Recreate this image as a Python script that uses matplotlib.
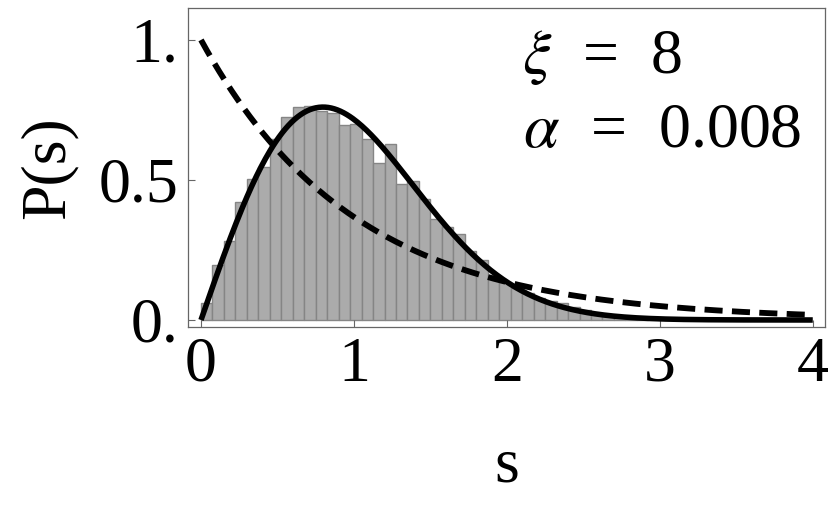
import numpy as np
import matplotlib
matplotlib.use("Agg")
import matplotlib.pyplot as plt

plt.rcParams['font.family'] = ['Liberation Serif', 'DejaVu Serif']
plt.rcParams['mathtext.fontset'] = 'stix'

# histogram of level spacings, bin width 0.075 starting at s = 0
bin_width = 0.075
hist_heights = [0.062, 0.197, 0.282, 0.423, 0.502, 0.548, 0.645, 0.724, 0.761, 0.765,
                0.748, 0.738, 0.696, 0.699, 0.648, 0.562, 0.629, 0.485, 0.498, 0.432,
                0.360, 0.331, 0.307, 0.245, 0.214, 0.160, 0.135, 0.115, 0.095, 0.078,
                0.068, 0.060, 0.048, 0.036, 0.026, 0.018, 0.012, 0.008, 0.005]
bin_left = np.arange(len(hist_heights)) * bin_width

xticks = [0, 1, 2, 3, 4]
yticks = [0, 0.5, 1.0]
yticklabels = ["0.", "0.5", "1."]
xi_label = r"$\xi$  =  8"
alpha_label = r"$\alpha$  =  0.008"

# reference curves: Wigner surmise (solid) and Poisson (dashed)
s = np.linspace(0, 4, 400)
wigner = np.pi / 2 * s * np.exp(-np.pi * s ** 2 / 4)
poisson = np.exp(-s)

fig = plt.figure(figsize=(8.3, 5.07), dpi=100)
ax = fig.add_axes([188 / 830, 180 / 507, 637 / 830, 319 / 507])

ax.bar(bin_left, hist_heights, width=bin_width, align='edge',
       color='#ababab', edgecolor='#858585', linewidth=1.0, zorder=1)
ax.plot(s, wigner, color='black', lw=4.0, solid_capstyle='butt', zorder=3)
ax.plot(s, poisson, color='black', lw=4.2, dashes=(3.1, 1.6), zorder=3)

ax.set_xlim(-0.085, 4.08)
ax.set_ylim(-0.025, 1.114)
ax.set_xticks(xticks)
ax.set_xticklabels([str(t) for t in xticks])
ax.set_yticks(yticks)
ax.set_yticklabels(yticklabels)
ax.tick_params(direction='in', length=5, width=0.8, color='#666666',
               labelsize=46, pad=7)
for sp in ax.spines.values():
    sp.set_color('#666666')
    sp.set_linewidth(0.9)

ax.set_xlabel("s", fontsize=46, labelpad=31)
ax.set_ylabel("P(s)", fontsize=46, labelpad=15)

ax.text(0.65, 0.845, xi_label, transform=ax.transAxes, fontsize=46,
        ha='center', va='center')
ax.text(0.744, 0.612, alpha_label, transform=ax.transAxes, fontsize=46,
        ha='center', va='center')

fig.savefig("out.png", dpi=100)
